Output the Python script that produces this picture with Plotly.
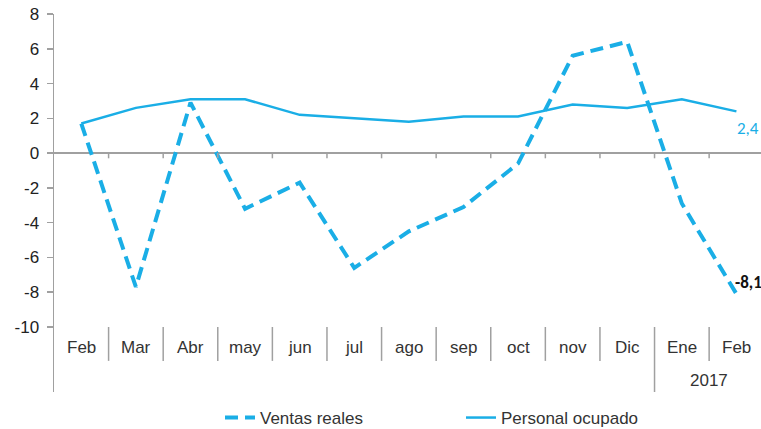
import plotly.graph_objects as go

categories = ["Feb", "Mar", "Abr", "may", "jun", "jul", "ago", "sep", "oct", "nov", "Dic", "Ene", "Feb"]
ventas_reales = [1.7, -7.7, 2.9, -3.2, -1.7, -6.6, -4.5, -3.1, -0.6, 5.6, 6.4, -2.9, -8.1]
personal_ocupado = [1.7, 2.6, 3.1, 3.1, 2.2, 2.0, 1.8, 2.1, 2.1, 2.8, 2.6, 3.1, 2.4]
y_ticks = [-10, -8, -6, -4, -2, 0, 2, 4, 6, 8]
year_label = "2017"
year_start_index = 11
label_ventas = "-8,1"
label_personal = "2,4"

BLUE = "#1AAEE6"
FONT = "Liberation Sans, Arial, sans-serif"
AXIS_GRAY = "#A0A0A0"
W, H = 761, 429

x_idx = list(range(len(categories)))

fig = go.Figure()
fig.add_trace(go.Scatter(
    x=x_idx, y=ventas_reales, mode="lines", name="Ventas reales",
    line=dict(color=BLUE, width=4, dash="13px,7px"),
))
fig.add_trace(go.Scatter(
    x=x_idx, y=personal_ocupado, mode="lines", name="Personal ocupado",
    line=dict(color=BLUE, width=2.5),
))

shapes = []
# tick marks below zero line at category boundaries
for i in range(len(categories)):
    shapes.append(dict(type="line", xref="x", yref="y", x0=i + 0.5, x1=i + 0.5,
                       y0=0, y1=-0.3, line=dict(color=AXIS_GRAY, width=1.5)))
# separators in the category label band
for i in range(len(categories) - 1):
    bottom = -13.74 if i + 1 == year_start_index else -11.95
    shapes.append(dict(type="line", xref="x", yref="y", x0=i + 0.5, x1=i + 0.5,
                       y0=-10, y1=bottom, line=dict(color=AXIS_GRAY, width=1.5)))

annotations = []
for i, c in enumerate(categories):
    annotations.append(dict(x=i, y=-11.2, xref="x", yref="y", text=c, showarrow=False,
                            font=dict(family=FONT, size=17, color="#333333")))
annotations.append(dict(x=(year_start_index + len(categories) - 1) / 2, y=-13.05, xref="x", yref="y",
                        text=year_label, showarrow=False,
                        font=dict(family=FONT, size=17, color="#333333")))
last = len(categories) - 1
annotations.append(dict(x=last, y=personal_ocupado[last], xref="x", yref="y", text=label_personal,
                        showarrow=False, xanchor="left", xshift=-1, yshift=-17,
                        font=dict(family="Carlito, Liberation Sans, sans-serif", size=17, color=BLUE)))
annotations.append(dict(x=last, y=ventas_reales[last], xref="x", yref="y", text="<b>" + label_ventas + "</b>",
                        showarrow=False, xanchor="left", xshift=-3, yshift=11,
                        font=dict(family="Carlito, Liberation Sans, sans-serif", size=17, color="#111111")))

fig.update_layout(
    width=W, height=H, autosize=False,
    margin=dict(l=54, r=0, t=14, b=37, autoexpand=False),
    paper_bgcolor="white", plot_bgcolor="white",
    font=dict(family=FONT, size=17, color="#333333"),
    xaxis=dict(range=[-0.5, 12.45], visible=False, fixedrange=True),
    yaxis=dict(range=[-13.74, 8], tickvals=y_ticks, ticktext=[str(v) for v in y_ticks],
               automargin=False, fixedrange=True,
               showgrid=False, zeroline=True, zerolinecolor=AXIS_GRAY, zerolinewidth=1.5,
               showline=True, linecolor=AXIS_GRAY, linewidth=1.5,
               ticks="outside", ticklen=6, tickcolor=AXIS_GRAY, tickwidth=1.5,
               ticklabelstandoff=4,
               tickfont=dict(family=FONT, size=17, color="#222222")),
    showlegend=True,
    legend=dict(orientation="h", xref="container", yref="container",
                x=220 / W, xanchor="left", y=1 - 418 / H, yanchor="middle",
                entrywidth=196, entrywidthmode="pixels",
                font=dict(family=FONT, size=17, color="#333333")),
    hovermode=False,
    shapes=shapes,
    annotations=annotations,
)

fig.write_html(
    "out.html",
    config={"displayModeBar": False, "staticPlot": True},
    post_script="document.body.style.margin='0';document.body.style.overflow='hidden';"
                "document.documentElement.style.overflow='hidden';",
)
